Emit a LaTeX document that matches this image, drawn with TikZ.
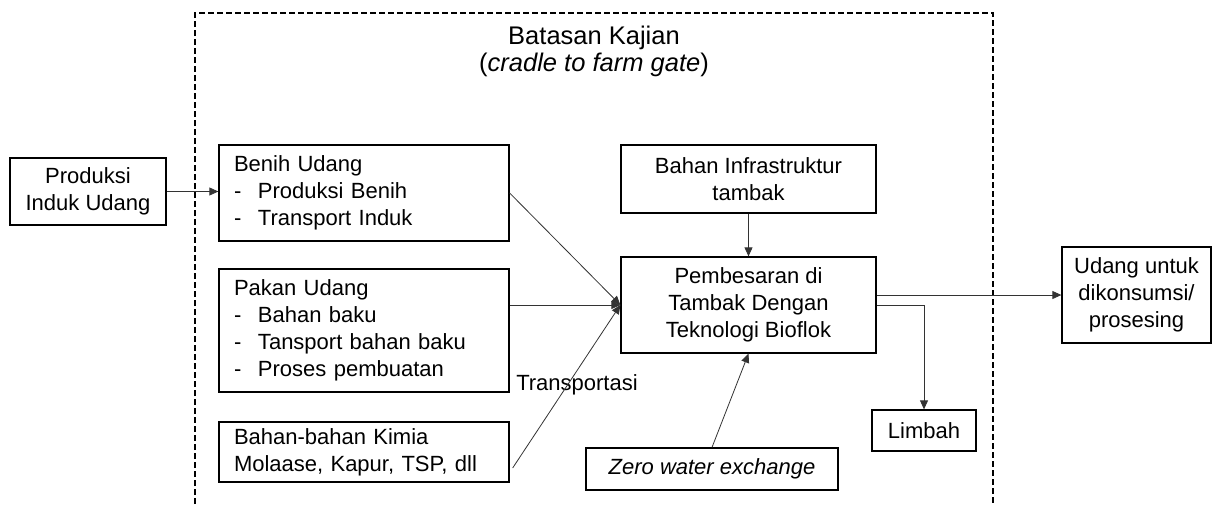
\documentclass[tikz,border=0pt]{standalone}
\usepackage{fontspec}
\setmainfont{Liberation Sans}
\usetikzlibrary{arrows.meta,calc}
\begin{document}
\begin{tikzpicture}[x=1pt,y=-1pt,
  box/.style={draw=black,line width=1.3pt,inner sep=0pt,align=center,
    font=\fontsize{22}{27}\selectfont},
  lbox/.style={box,align=left,inner xsep=15pt,text width=#1},
  conn/.style={draw=black!80,line width=0.8pt,-{Triangle[length=9pt,width=8pt]}},
  bound/.style={draw=black,line width=1.6pt,dash pattern=on 6pt off 3pt}]
\useasboundingbox (0,0) rectangle (1212,504);
% boundary
\draw[bound] (195,504) -- (195,13) -- (993,13) -- (993,504);
\node[font=\fontsize{25.5}{27}\selectfont,align=center] (title) at (594,51)
  {Batasan Kajian\\(\textit{cradle to farm gate})};
% boxes
\node[box,minimum width=156pt,minimum height=67pt] (prod) at (88,191.5)
  {Produksi\\Induk Udang};
\node[lbox=260pt,minimum width=290pt,minimum height=96pt] (benih) at (364,193)
  {Benih Udang\\\makebox[24pt][l]{-}Produksi Benih\\\makebox[24pt][l]{-}Transport Induk};
\node[lbox=260pt,minimum width=290pt,minimum height=123pt] (pakan) at (364,330.5)
  {Pakan Udang\\\makebox[24pt][l]{-}Bahan baku\\\makebox[24pt][l]{-}Tansport bahan baku\\\makebox[24pt][l]{-}Proses pembuatan};
\node[lbox=260pt,minimum width=290pt,minimum height=60pt] (kimia) at (364,452)
  {Bahan-bahan Kimia\\Molaase, Kapur, TSP, dll};
\node[box,minimum width=255pt,minimum height=68pt] (infra) at (748.5,179)
  {Bahan Infrastruktur\\tambak};
\node[box,minimum width=255pt,minimum height=96pt] (pemb) at (748.5,305)
  {Pembesaran di\\Tambak Dengan\\Teknologi Bioflok};
\node[box,minimum width=252pt,minimum height=42pt,font=\fontsize{22}{27}\selectfont\itshape] (zero) at (712,469)
  {Zero water exchange};
\node[box,minimum width=104pt,minimum height=41pt] (limbah) at (924,430.5) {Limbah};
\node[box,minimum width=149pt,minimum height=96pt] (udang) at (1136.5,295)
  {Udang untuk\\dikonsumsi/\\prosesing};
\node[font=\fontsize{22}{27}\selectfont] (trans) at (577,385) {Transportasi};
% connectors
\draw[conn] (prod.east) -- (prod.east -| benih.west);
\draw[conn] (benih.east) -- (pemb.west);
\draw[conn] (pakan.east |- pemb.west) -- (pemb.west);
\draw[conn] ($(kimia.east)+(3,16)$) -- (pemb.west);
\draw[conn] (infra.south) -- (pemb.north);
\draw[conn] (zero.north) -- (pemb.south);
\draw[conn] (pemb.east |- udang.west) -- (udang.west);
\draw[conn] (pemb.east) -| (limbah.north);
\end{tikzpicture}
\end{document}
